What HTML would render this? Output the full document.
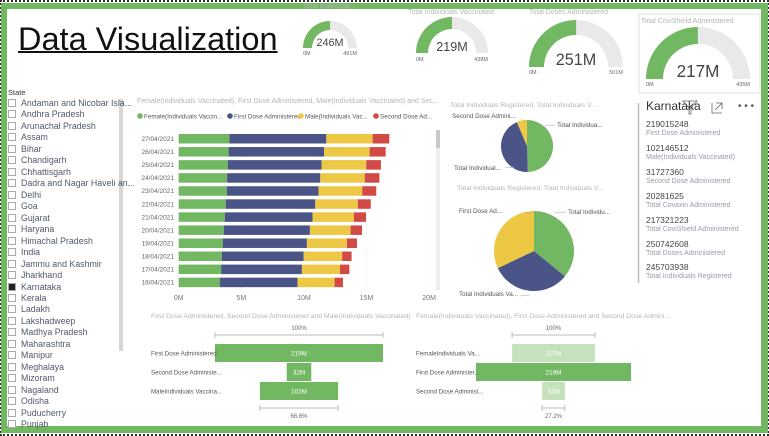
<!DOCTYPE html>
<html><head><meta charset="utf-8"><style>
*{margin:0;padding:0;box-sizing:border-box}
body{width:769px;height:436px;overflow:hidden;background:#fff;font-family:"Liberation Sans",sans-serif;position:relative}
.abs{position:absolute;white-space:nowrap}
.st{font-size:8.8px;color:#505a6a}
</style></head><body>
<div style="position:absolute;left:0;top:0;width:769px;height:436px;border:2px dotted #333"></div>
<div style="position:absolute;left:1px;top:3px;width:767px;height:430px;border-style:solid;border-color:#72b862;border-width:6px 7px 7px 6px"></div>

<div class="abs" style="left:18px;top:21px;font-size:32.5px;color:#111;text-decoration:underline;text-decoration-thickness:2px">Data Visualization</div>

<svg width="769" height="436" style="position:absolute;left:0;top:0;font-family:'Liberation Sans',sans-serif">
<g id="gauges"></g>
<rect x="639" y="14" width="121" height="79" fill="none" stroke="#e0e0e0"/>
<g id="bars"></g>
<g id="pies"></g>
<g id="funnels"></g>
<rect x="119" y="99" width="4" height="252" fill="#d6d6d6"/>
<rect x="436" y="130" width="4" height="160" fill="#eee"/>
<rect x="436" y="130" width="4" height="18" fill="#c8c8c8"/>
<line x1="638.5" y1="103" x2="638.5" y2="283" stroke="#bbb" stroke-width="1.5"/>
<path d="M683 101 L697 101 L691 108 L691 114 L689 114 L689 108 Z" fill="none" stroke="#666" stroke-width="0.8"/>
<path d="M712 103 V113 H722 M716 103 H722 V109 M715 110 L722 103" fill="none" stroke="#666" stroke-width="0.8"/>
<text x="738" y="109" font-size="10" fill="#555">• • •</text>
</svg>

<div class="abs" style="left:8px;top:88px;font-size:7.5px;color:#333">State</div>
<div id="slicer"></div>

<div class="abs" style="left:646px;top:99px;font-size:12px;color:#333">Karnataka</div>
<div id="cards"></div>

<script>
const svg=document.querySelector('svg');
const NS='http://www.w3.org/2000/svg';
function el(tag,attrs,parent){const e=document.createElementNS(NS,tag);for(const k in attrs)e.setAttribute(k,attrs[k]);(parent||svg).appendChild(e);return e;}
function txt(x,y,s,size,fill,parent,anchor){const t=el('text',{x:x,y:y,'font-size':size,fill:fill,'text-anchor':anchor||'start'},parent);t.textContent=s;return t;}

/* ---------- gauges ---------- */
const gaugeTitles=["Total Individual...","Total Individuals Vaccinated","Total Doses Administered","Total CoviShield Administered"];
const gaugeValues=[246,219,251,217];
const gaugeMax=[491,438,501,435];
const gaugeLabels=["246M","219M","251M","217M"];
const gaugeMaxLabels=["491M","438M","501M","435M"];
const gaugeGeo=[[330,48,27,9,12,303,4,55],[452,53,36,12,14,408,10,61],[576,67,47,15,18,529,10,74],[698,79,52,17,19,641,19,86]];
const gG=document.getElementById('gauges');
function arcPath(cx,cy,r,ri,a0,a1){
  const p=(rr,a)=>[cx-rr*Math.cos(a),cy-rr*Math.sin(a)];
  const [x0,y0]=p(r,a0),[x1,y1]=p(r,a1),[x2,y2]=p(ri,a1),[x3,y3]=p(ri,a0);
  return `M${x0} ${y0} A${r} ${r} 0 0 1 ${x1} ${y1} L${x2} ${y2} A${ri} ${ri} 0 0 0 ${x3} ${y3}Z`;
}
gaugeValues.forEach((v,i)=>{
  const [cx,cy,r,th,fs,tx,ty,ly]=gaugeGeo[i];
  const frac=v/gaugeMax[i];
  const bg=el('path',{d:arcPath(cx,cy,r,r-th,0,Math.PI),fill:'#e9e9e9'},gG);
  
  const fg=el('path',{d:arcPath(cx,cy,r,r-th,0,Math.PI*frac),fill:'#72b862'},gG);
  
  const tt=txt(tx,ty+4,gaugeTitles[i],7,'#b5b5b5',gG);
  
  const vt=txt(cx,cy-2,gaugeLabels[i],fs*0.9,'#444',gG,'middle');
  
  const l0=txt(cx-r,ly,'0M',5.5,'#666',gG);
  
  const l1=txt(cx+r,ly,gaugeMaxLabels[i],5.5,'#666',gG,'end');
  
});

/* ---------- stacked bar chart ---------- */
const dates=["27/04/2021","26/04/2021","25/04/2021","24/04/2021","23/04/2021","22/04/2021","21/04/2021","20/04/2021","19/04/2021","18/04/2021","17/04/2021","16/04/2021"];
const female=[4.05,3.99,3.92,3.87,3.84,3.76,3.68,3.60,3.52,3.44,3.39,3.28];
const firstDose=[7.74,7.63,7.49,7.44,7.33,7.15,7.01,6.88,6.72,6.53,6.45,6.21];
const male=[3.70,3.63,3.57,3.55,3.49,3.39,3.31,3.25,3.20,3.09,3.04,2.96];
const secondDose=[1.33,1.28,1.17,1.17,1.12,1.04,0.96,0.91,0.80,0.75,0.75,0.67];
const xTicks=[0,5,10,15,20];
const xTickLabels=["0M","5M","10M","15M","20M"];
const seriesNames=["Female(Individuals Vaccin...","First Dose Administered","Male(Individuals Vac...","Second Dose Ad..."];
const colors=['#72b862','#4a5486','#ecc845','#d24a45'];
const bG=document.getElementById('bars');
const xS=v=>178.7+v*12.52;
const yS=i=>134+i*13.06;
const bt=txt(137,103,'Female(Individuals Vaccinated), First Dose Administered, Male(Individuals Vaccinated) and Sec...',7,'#b5b5b5',bG);

const legX=[137,227,298,373];
seriesNames.forEach((n,k)=>{
  const c=el('circle',{cx:legX[k]+3,cy:116,r:2.8,fill:colors[k]},bG);
  
  const t=txt(legX[k]+7,118.5,n,6.3,'#555',bG);
  
});
xTicks.forEach((v,k)=>{
  const g=el('line',{x1:xS(v),x2:xS(v),y1:128,y2:292,stroke:'#eee','stroke-dasharray':'1,2'},bG);
  
  const t=txt(xS(v),300,xTickLabels[k],7,'#777',bG,'middle');
  
});
const series=[female,firstDose,male,secondDose];
dates.forEach((d,i)=>{
  const t=txt(174,yS(i)+7,d,6.5,'#666',bG,'end');
  
  let acc=0;
  series.forEach((s,k)=>{
    const r=el('rect',{x:xS(acc),y:yS(i),width:xS(acc+s[i])-xS(acc),height:9.5,fill:colors[k]},bG);
    
    acc+=s[i];
  });
});

/* ---------- pies ---------- */
const pie1Values=[245.7,219.0,31.7];
const pie2Values=[245.7,219.0,219.0];
const pie1Labels=["Total Individua...","Total Individual...","Second Dose Admini..."];
const pie2Labels=["Total Individu...","Total Individuals Va...","First Dose Ad..."];
const pG=document.getElementById('pies');
function pie(vals,cx,cy,r,name){
  const tot=vals.reduce((a,b)=>a+b,0);let a=0;
  vals.forEach((v,k)=>{
    const a0=a/tot*2*Math.PI,a1=(a+v)/tot*2*Math.PI;a+=v;
    const x0=cx+r*Math.sin(a0),y0=cy-r*Math.cos(a0),x1=cx+r*Math.sin(a1),y1=cy-r*Math.cos(a1);
    const p=el('path',{d:`M${cx} ${cy}L${x0} ${y0}A${r} ${r} 0 ${a1-a0>Math.PI?1:0} 1 ${x1} ${y1}Z`,fill:colors[k]},pG);
    
  });
}
const pt1=txt(450,107,'Total Individuals Registered, Total Individuals V...',6.8,'#b5b5b5',pG);

pie(pie1Values,527,146,26,'pie1');
const pt2=txt(457,190,'Total Individuals Registered, Total Individuals V...',6.8,'#b5b5b5',pG);

pie(pie2Values,534,251,40,'pie2');
[[557,127,pie1Labels[0],'start'],[454,170,pie1Labels[1],'start'],[452,118,pie1Labels[2],'start'],
 [568,214,pie2Labels[0],'start'],[459,296,pie2Labels[1],'start'],[459,213,pie2Labels[2],'start']].forEach((l,k)=>{
  const t=txt(l[0],l[1],l[2],6.3,'#555',pG,l[3]);
  
});
[[545,126,555,125],[505,168,514,167],[522,119,525,123],[554,213,566,212],[520,296,530,295],[524,212,532,214]].forEach((l,k)=>{
  const ln=el('line',{x1:l[0],y1:l[1],x2:l[2],y2:l[3],stroke:'#aaa','stroke-width':0.6},pG);
  
});

/* ---------- funnels ---------- */
const funnel1Cats=["First Dose Administered","Second Dose Administe...","MaleIndividuals Vaccina..."];
const funnel1Values=[219,32,102];
const funnel1Labels=["219M","32M","102M"];
const funnel2Cats=["FemaleIndividuals Va...","First Dose Administer...","Second Dose Administ..."];
const funnel2Values=[117,219,32];
const funnel2Labels=["117M","219M","32M"];
const fG=document.getElementById('funnels');
const rowY=[344,363,382],rowH=18;
function funnel(cats,vals,labs,cx,pxPerM,labX,title,titleX,name,lightMask,bottomPct){
  const tt=txt(titleX,318,title,6.8,'#b5b5b5',fG);
  
  const w0=vals[0]*pxPerM,wl=vals[vals.length-1]*pxPerM;
  const t100=txt(cx,330,'100%',6,'#666',fG,'middle');
  
  const br=el('path',{d:`M${cx-w0/2} 332V338M${cx-w0/2} 335H${cx+w0/2}M${cx+w0/2} 332V338`,stroke:'#bbb',fill:'none'},fG);
  
  const bb=el('path',{d:`M${cx-wl/2} 405V411M${cx-wl/2} 408H${cx+wl/2}M${cx+wl/2} 405V411`,stroke:'#bbb',fill:'none'},fG);
  
  const bp=txt(cx,418,bottomPct,6,'#666',fG,'middle');
  
  vals.forEach((v,i)=>{
    const w=v*pxPerM;
    const r=el('rect',{x:cx-w/2,y:rowY[i],width:w,height:rowH,fill:lightMask[i]?'#c6e2bd':'#72b862'},fG);
    
    const l=txt(cx,rowY[i]+11.5,labs[i],6.3,'#fff',fG,'middle');
    
    const c=txt(labX,rowY[i]+11.5,cats[i],6.2,'#555',fG);
    
  });
}
funnel(funnel1Cats,funnel1Values,funnel1Labels,299,168/219,151,'First Dose Administered, Second Dose Administered and Male(Individuals Vaccinated)',151,'funnel1',[0,0,0],'66.6%');
funnel(funnel2Cats,funnel2Values,funnel2Labels,553.5,155/219,416,'Female(Individuals Vaccinated), First Dose Administered and Second Dose Admini...',416,'funnel2',[1,0,1],'27.2%');

/* ---------- slicer ---------- */
const states=["Andaman and Nicobar Isla...","Andhra Pradesh","Arunachal Pradesh","Assam","Bihar","Chandigarh","Chhattisgarh","Dadra and Nagar Haveli an...","Delhi","Goa","Gujarat","Haryana","Himachal Pradesh","India","Jammu and Kashmir","Jharkhand","Karnataka","Kerala","Ladakh","Lakshadweep","Madhya Pradesh","Maharashtra","Manipur","Meghalaya","Mizoram","Nagaland","Odisha","Puducherry","Punjab"];
const sl=document.getElementById('slicer');
states.forEach((s,i)=>{
  const y=98+i*11.47;
  const row=document.createElement('div');
  row.className='abs st';row.style.left='8px';row.style.top=y+'px';row.style.height='11px';
  
  
  const sel=s==='Karnataka';
  row.innerHTML=`<span style="display:inline-block;width:8px;height:8px;border:1px solid #aaa;vertical-align:-1px;margin-right:5px;background:${sel?'#222':'#fff'}"></span>${s}`;
  sl.appendChild(row);
});

/* ---------- multi-row card ---------- */
const cardValues=["219015248","102146512","31727360","20281625","217321223","250742608","245703938"];
const cardNames=["First Dose Administered","Male(Individuals Vaccinated)","Second Dose Administered","Total Covaxin Administered","Total CoviShield Administered","Total Doses Administered","Total Individuals Registered"];
const cd=document.getElementById('cards');
cardValues.forEach((v,i)=>{
  const y=119+i*23.9;
  const a=document.createElement('div');a.className='abs';
  a.style.cssText=`left:646px;top:${y}px;font-size:8.5px;color:#444`;a.textContent=v;
  cd.appendChild(a);
  const b=document.createElement('div');b.className='abs';
  b.style.cssText=`left:646px;top:${y+11}px;font-size:7px;color:#9a9aaa`;b.textContent=cardNames[i];
  cd.appendChild(b);
});
</script>
</body></html>
